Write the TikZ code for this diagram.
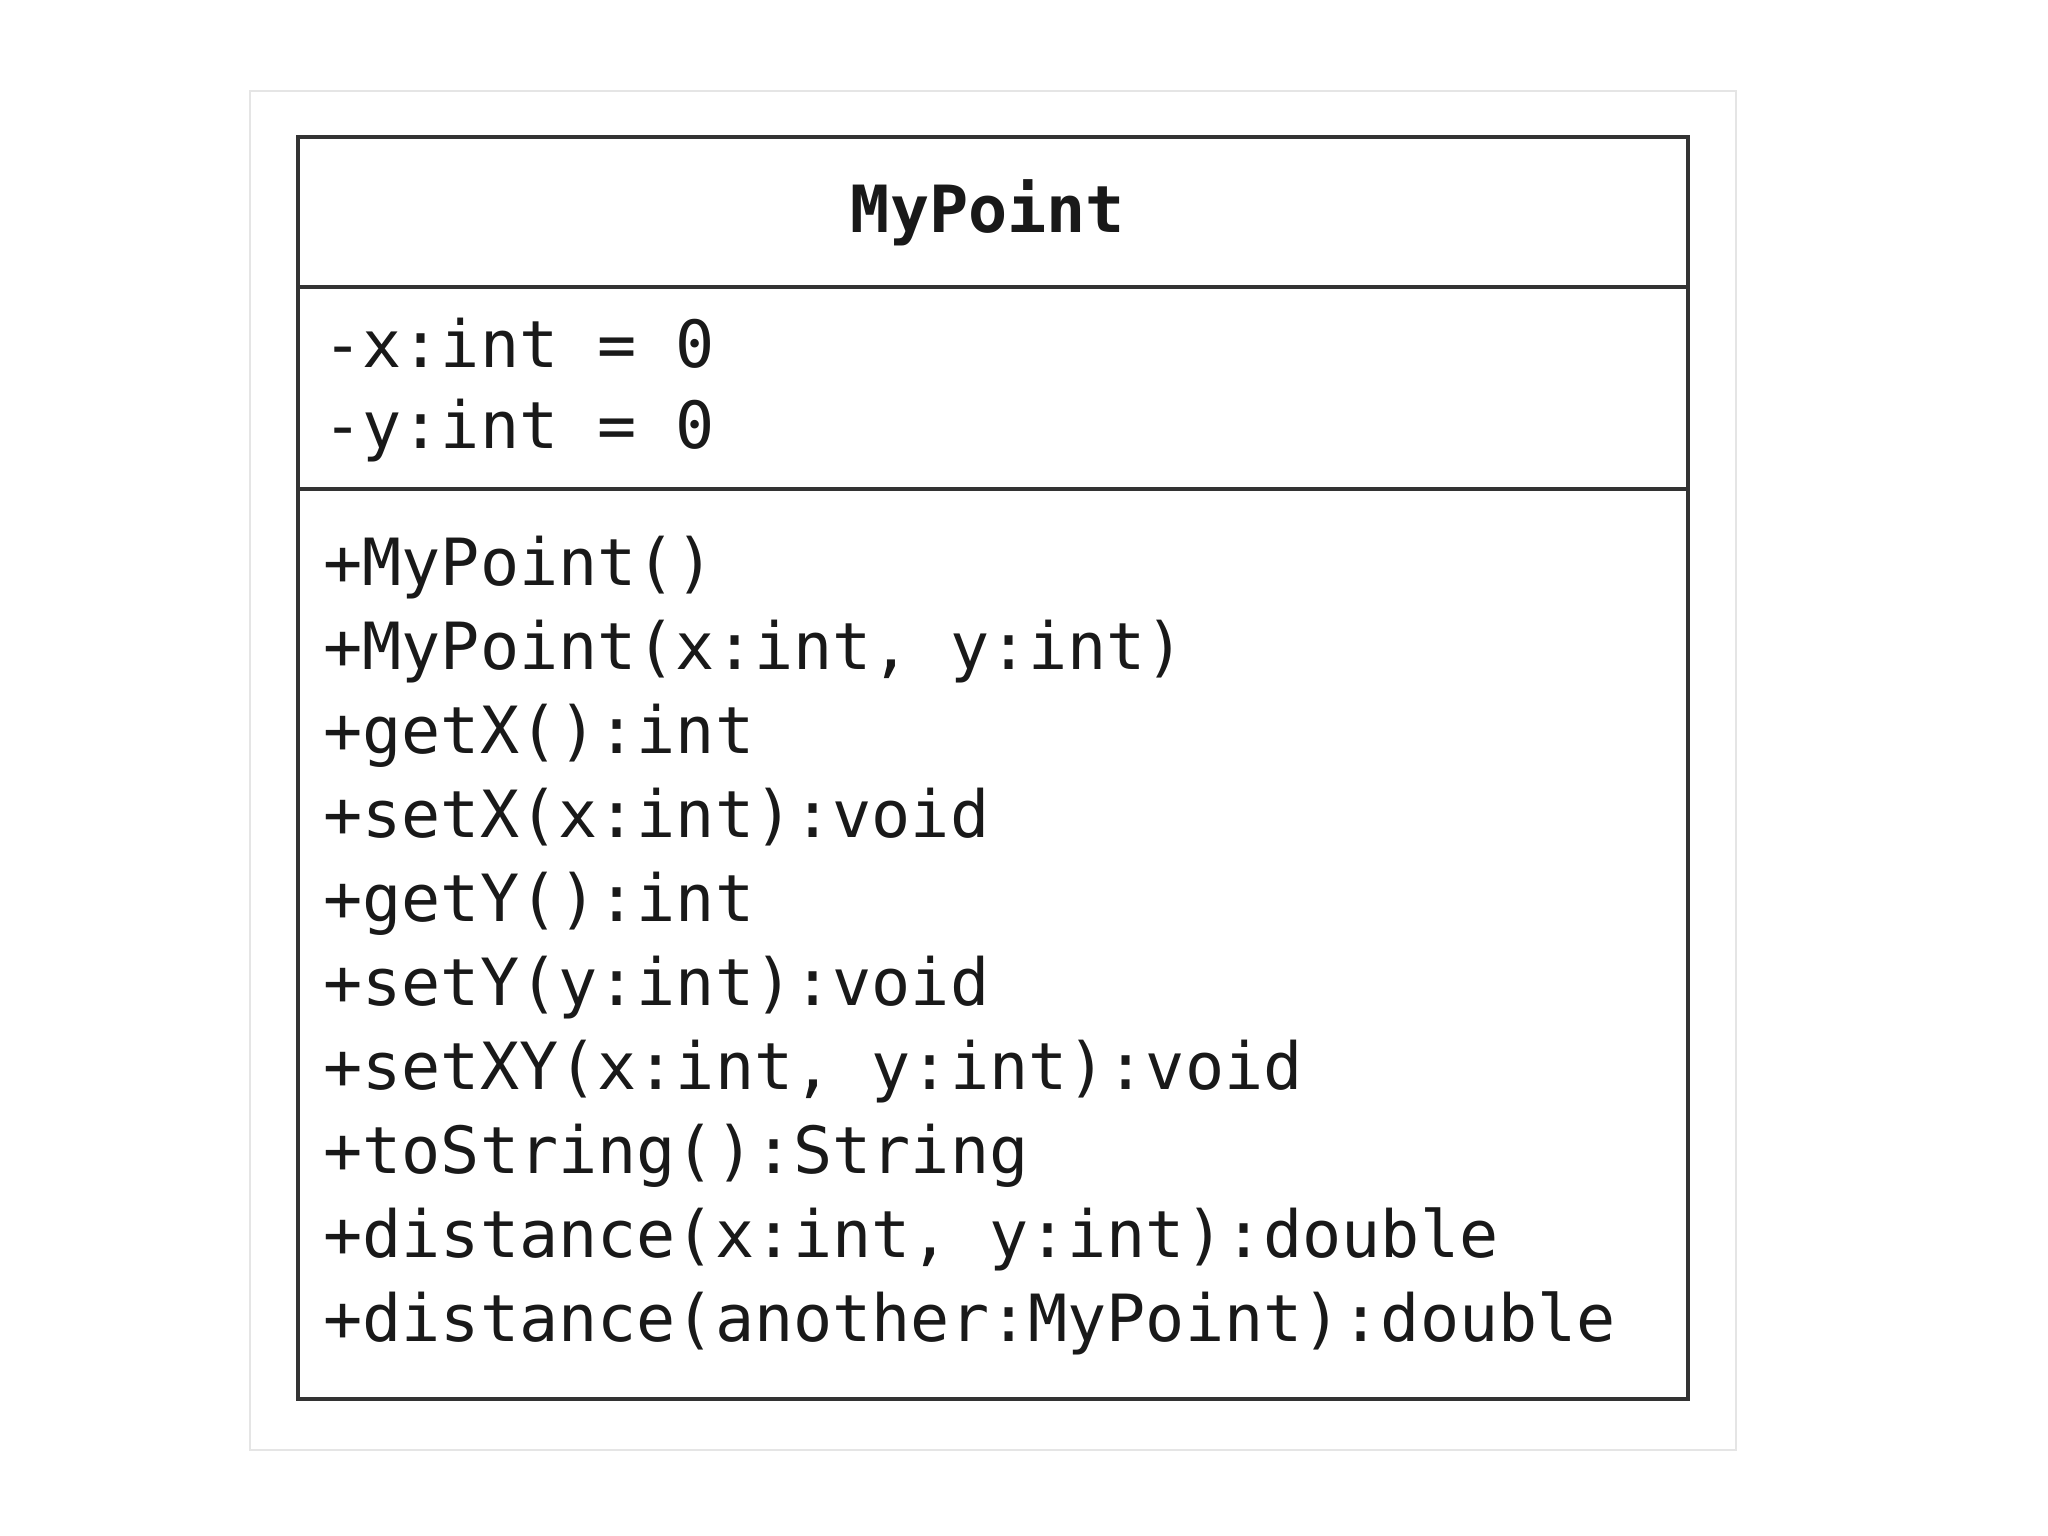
\documentclass[tikz,border=0pt]{standalone}
\usepackage{fontspec}
\setmonofont{DejaVu Sans Mono}

\begin{document}
\begin{tikzpicture}[x=0.01cm, y=-0.01cm,
    thick,
    frame/.style = {
      draw = black!80,
      line width = 1.2pt
    },
    member/.style = {
      anchor = base west,
      inner sep = 0pt,
      text = black!90,
      font = \fontsize{18.5}{22}\selectfont\ttfamily
    },
    classname/.style = {
      anchor = base,
      inner sep = 0pt,
      text = black!90,
      font = \fontsize{18.5}{22}\selectfont\ttfamily\bfseries
    }
  ]
  \useasboundingbox[fill=white] (0,0) rectangle (2048,1536);

  % light outer border
  \draw[black!10, line width=0.6pt] (250,91) rectangle (1736,1450);

  \coordinate (NW) at (298,137);
  \coordinate (SE) at (1688,1399);
  \coordinate (A1) at (298,287);
  \coordinate (A2) at (1688,287);
  \coordinate (B1) at (298,489);
  \coordinate (B2) at (1688,489);

  \draw[frame] (NW) rectangle (SE);
  \draw[frame] (A1) -- (A2);
  \draw[frame] (B1) -- (B2);

  \node[classname] (title) at (988,232) {MyPoint};

  \node[member] (fx) at (322,367) {-x:int = 0};
  \node[member] (fy) at (322,448) {-y:int = 0};

  \node[member] (m1) at (322,585) {+MyPoint()};
  \node[member] (m2) at (322,669.1) {+MyPoint(x:int, y:int)};
  \node[member] (m3) at (322,753.2) {+getX():int};
  \node[member] (m4) at (322,837.3) {+setX(x:int):void};
  \node[member] (m5) at (322,921.4) {+getY():int};
  \node[member] (m6) at (322,1005.5) {+setY(y:int):void};
  \node[member] (m7) at (322,1089.6) {+setXY(x:int, y:int):void};
  \node[member] (m8) at (322,1173.7) {+toString():String};
  \node[member] (m9) at (322,1257.8) {+distance(x:int, y:int):double};
  \node[member] (m10) at (322,1341.9) {+distance(another:MyPoint):double};
\end{tikzpicture}
\end{document}
